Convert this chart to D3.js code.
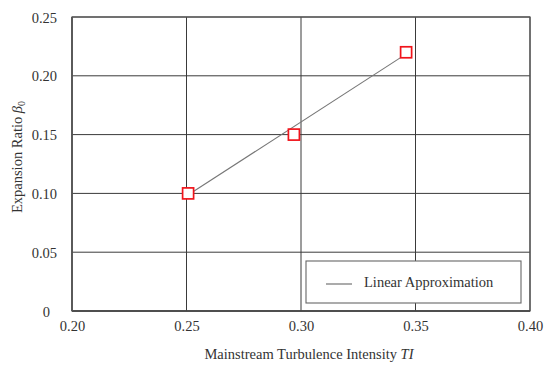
<!DOCTYPE html>
<html><head><meta charset="utf-8">
<script src="https://cdn.jsdelivr.net/npm/d3@7"></script>
<style>body{margin:0;background:#fff}svg{display:block}</style>
</head><body>
<svg id="c" width="545" height="369"></svg>
<script>
const xTicks = [0.20, 0.25, 0.30, 0.35, 0.40];
const yTicks = [0, 0.05, 0.10, 0.15, 0.20, 0.25];
const xTickLabels = ["0.20", "0.25", "0.30", "0.35", "0.40"];
const yTickLabels = ["0", "0.05", "0.10", "0.15", "0.20", "0.25"];
const pointTI = [0.2507, 0.2969, 0.3459];
const pointBeta = [0.10, 0.15, 0.22];
const lineTI = [0.2525, 0.3455];
const lineBeta = [0.101, 0.218];
const legendLabel = "Linear Approximation";

const svg = d3.select("#c");
const m = {l: 72, r: 15, t: 17, b: 58};
const W = 545, H = 369;
const x = d3.scaleLinear().domain([0.20, 0.40]).range([m.l, W - m.r]);
const y = d3.scaleLinear().domain([0, 0.25]).range([H - m.b, m.t]);
const font = "'Liberation Serif', 'Times New Roman', serif";

// grid
svg.append("g").selectAll("line").data(xTicks).join("line")
  .attr("x1", d => x(d)).attr("x2", d => x(d))
  .attr("y1", y(0)).attr("y2", y(0.25))
  .attr("stroke", "#3a3a3a").attr("stroke-width", 1);
svg.append("g").selectAll("line").data(yTicks).join("line")
  .attr("y1", d => y(d)).attr("y2", d => y(d))
  .attr("x1", x(0.2)).attr("x2", x(0.4))
  .attr("stroke", "#3a3a3a").attr("stroke-width", 1);
// frame
svg.append("rect").attr("x", x(0.2)).attr("y", y(0.25))
  .attr("width", x(0.4) - x(0.2)).attr("height", y(0) - y(0.25))
  .attr("fill", "none").attr("stroke", "#555").attr("stroke-width", 1.2);
svg.append("line").attr("x1", x(0.2)).attr("x2", x(0.4)).attr("y1", y(0)).attr("y2", y(0))
  .attr("stroke", "#444").attr("stroke-width", 1.6);
svg.append("line").attr("x1", x(0.2)).attr("x2", x(0.2)).attr("y1", y(0)).attr("y2", y(0.25))
  .attr("stroke", "#555").attr("stroke-width", 1.6);

// axes labels via d3 axes
const xa = svg.append("g").attr("transform", `translate(0,${y(0)})`)
  .call(d3.axisBottom(x).tickValues(xTicks).tickFormat((d, i) => xTickLabels[i]).tickSize(0).tickPadding(10));
const ya = svg.append("g").attr("transform", `translate(${x(0.2)},0)`)
  .call(d3.axisLeft(y).tickValues(yTicks).tickFormat((d, i) => yTickLabels[i]).tickSize(0).tickPadding(15));
[xa, ya].forEach(a => {
  a.select(".domain").remove();
  a.selectAll("text").attr("font-family", font).attr("font-size", 14.5).attr("fill", "#333");
});
ya.selectAll("text").attr("dy", "0.35em").attr("dx", d => d === 0 ? -7 : 0);

// axis titles
svg.append("text").attr("x", 309).attr("y", 359).attr("text-anchor", "middle")
  .attr("font-family", font).attr("font-size", 14.5).attr("fill", "#333")
  .text("Mainstream Turbulence Intensity ")
  .append("tspan").attr("font-style", "italic").text("TI");
const yt = svg.append("text").attr("transform", "translate(22,157) rotate(-90)")
  .attr("text-anchor", "middle").attr("font-family", font).attr("font-size", 14.5).attr("fill", "#333");
yt.append("tspan").text("Expansion Ratio ");
yt.append("tspan").attr("font-style", "italic").text("β");
yt.append("tspan").attr("font-size", 10).attr("dy", 3).text("0");

// linear approximation line
svg.append("path").datum(lineTI.map((d, i) => [d, lineBeta[i]]))
  .attr("d", d3.line().x(d => x(d[0])).y(d => y(d[1])))
  .attr("fill", "none").attr("stroke", "#777").attr("stroke-width", 1.1);

// markers
const s = 11;
svg.append("g").selectAll("rect").data(pointTI.map((d, i) => [d, pointBeta[i]])).join("rect")
  .attr("x", d => x(d[0]) - s / 2).attr("y", d => y(d[1]) - s / 2)
  .attr("width", s).attr("height", s)
  .attr("fill", "#fff").attr("stroke", "#f0141b").attr("stroke-width", 1.7);

// legend
const lg = svg.append("g");
lg.append("rect").attr("x", 306).attr("y", 261).attr("width", 215).attr("height", 42)
  .attr("fill", "#fff").attr("stroke", "#666").attr("stroke-width", 1.1);
lg.append("line").attr("x1", 326).attr("x2", 352).attr("y1", 284).attr("y2", 284)
  .attr("stroke", "#666").attr("stroke-width", 1.1);
lg.append("text").attr("x", 364).attr("y", 287).attr("font-family", font)
  .attr("font-size", 14.5).attr("fill", "#333").text(legendLabel);
</script>
</body></html>
